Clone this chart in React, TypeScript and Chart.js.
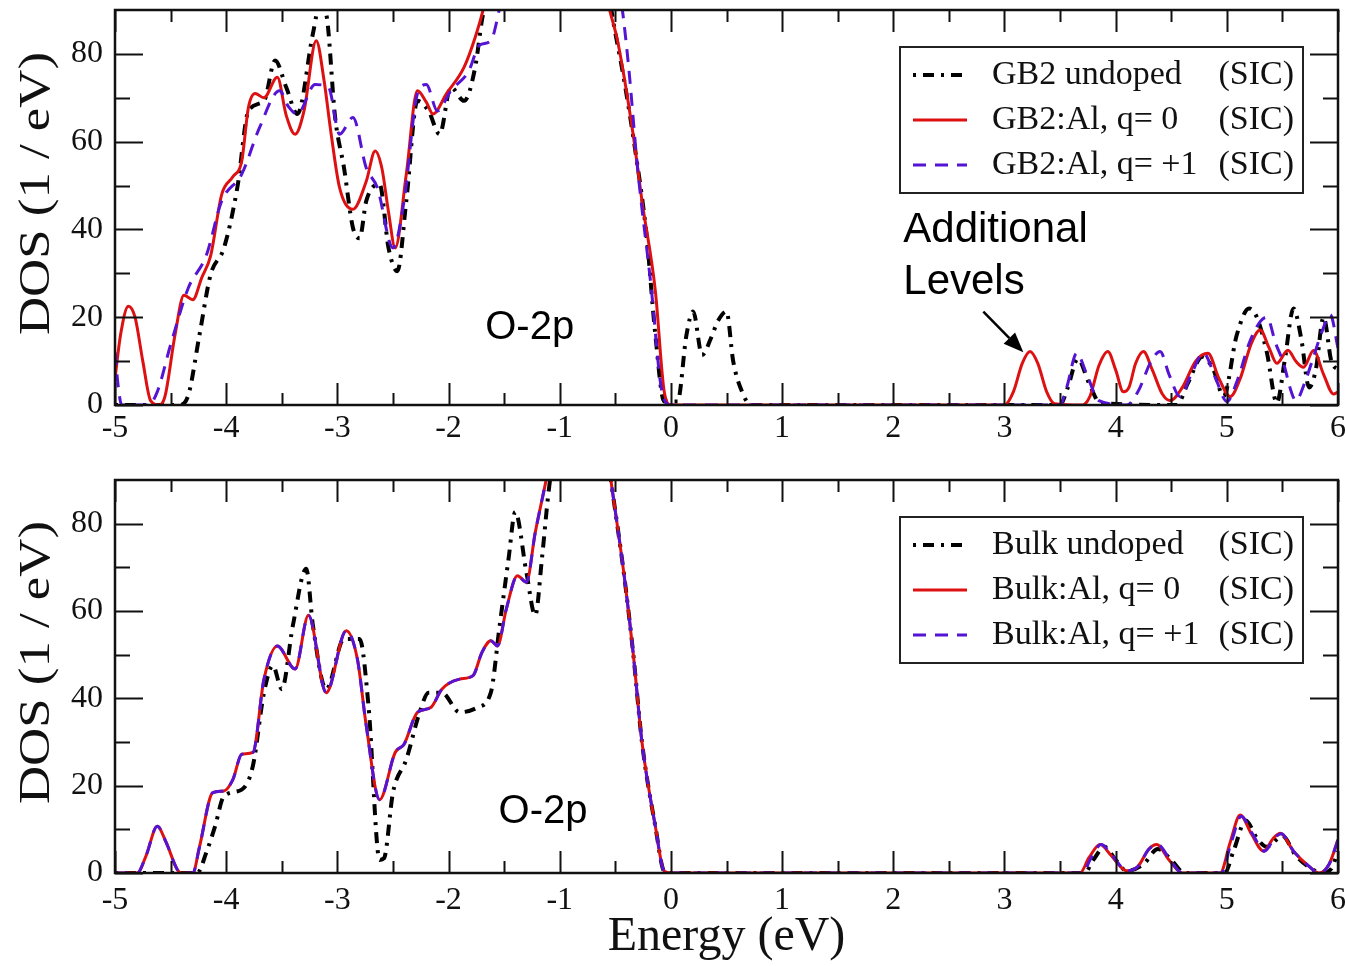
import React, { useEffect, useRef } from 'react';
import { Chart, registerables } from 'chart.js';

Chart.register(...registerables);

// ---------- axes ----------
const X_TICKS = [-5, -4, -3, -2, -1, 0, 1, 2, 3, 4, 5, 6];
const X_MINOR = [-4.5, -3.5, -2.5, -1.5, -0.5, 0.5, 1.5, 2.5, 3.5, 4.5, 5.5];
const Y_TICKS = [0, 20, 40, 60, 80];
const Y_MINOR = [10, 30, 50, 70];
const X_MIN = -5;
const X_MAX = 6;
const Y_MIN = 0;
const Y_MAX = 90;

// ---------- labels ----------
const TOP_LABELS = ['GB2 undoped', 'GB2:Al, q= 0', 'GB2:Al, q= +1'];
const BOTTOM_LABELS = ['Bulk undoped', 'Bulk:Al, q= 0', 'Bulk:Al, q= +1'];
const LABEL_SUFFIX = '(SIC)';
const X_TITLE = 'Energy (eV)';
const Y_TITLE = 'DOS (1 / eV)';

// ---------- data: [energy (eV), DOS (1/eV)] ----------
const GB2_UNDOPED: [number, number][] = [
  [-5, 0], [-4.42, 0], [-4.34, 2.3], [-4.24, 16], [-4.14, 29.7], [-4.02, 35.8], [-3.9, 49.5],
  [-3.8, 67], [-3.66, 69.3], [-3.56, 78.5], [-3.46, 72.4], [-3.36, 66.3], [-3.22, 84.6],
  [-3.16, 91], [-3.1, 89], [-3.02, 65.5], [-2.94, 54], [-2.86, 40.4], [-2.8, 38], [-2.74, 46.5],
  [-2.62, 50.3], [-2.54, 35.8], [-2.46, 30.5], [-2.38, 46.5], [-2.28, 69.3], [-2.18, 67],
  [-2.08, 61.7], [-1.98, 72.4], [-1.86, 69.3], [-1.76, 77], [-1.7, 87.6], [-1.6, 100],
  [-1.0, 140], [-0.6, 100], [-0.52, 87.6], [-0.42, 73.9], [-0.32, 57.9], [-0.22, 38.9],
  [-0.14, 16], [-0.06, 0.8], [0.06, 0.8], [0.14, 16], [0.2, 21.3], [0.28, 11.4], [0.36, 15.2],
  [0.42, 19], [0.5, 21.3], [0.56, 10], [0.64, 3], [0.72, 0], [3.5, 0], [3.57, 4], [3.66, 10.5],
  [3.76, 5], [3.86, 0.5], [4.55, 0], [4.65, 5], [4.78, 11], [4.88, 8], [4.97, 2], [5.09, 16],
  [5.2, 22], [5.27, 20], [5.36, 12], [5.45, 0.5], [5.52, 10], [5.6, 22], [5.67, 15], [5.74, 4],
  [5.8, 8], [5.87, 20], [5.94, 10], [6, 8],
];

const GB2_AL_Q0: [number, number][] = [
  [-5, 6], [-4.95, 16], [-4.88, 22.5], [-4.82, 20], [-4.75, 10], [-4.68, 1], [-4.6, 0],
  [-4.55, 2], [-4.46, 16], [-4.38, 25], [-4.3, 24], [-4.22, 29], [-4.14, 34], [-4.04, 48],
  [-3.94, 52], [-3.86, 55.6], [-3.8, 67.8], [-3.74, 71], [-3.66, 70], [-3.54, 74.7],
  [-3.46, 66], [-3.38, 61.7], [-3.3, 67], [-3.19, 83], [-3.12, 74], [-3.06, 62.5],
  [-2.98, 49.5], [-2.86, 44.6], [-2.74, 51], [-2.66, 57.9], [-2.6, 54], [-2.54, 44],
  [-2.48, 35.8], [-2.38, 52.6], [-2.28, 71.6], [-2.2, 69], [-2.14, 66.3], [-2.02, 70.9],
  [-1.86, 77], [-1.76, 83.8], [-1.68, 91], [-1.5, 115], [-1.1, 140], [-0.7, 110], [-0.56, 91],
  [-0.48, 83], [-0.34, 61.7], [-0.26, 46.5], [-0.14, 26], [-0.06, 3], [0, 0], [3.0, 0],
  [3.08, 3], [3.16, 9.5], [3.23, 12.2], [3.3, 9.5], [3.38, 3], [3.45, 0.3], [3.7, 0],
  [3.77, 2], [3.85, 9], [3.93, 12.2], [4.0, 8], [4.07, 3], [4.12, 4], [4.18, 9.5],
  [4.25, 12.2], [4.33, 8], [4.42, 2.5], [4.49, 1], [4.6, 4], [4.72, 10], [4.83, 11.8],
  [4.93, 6], [5.03, 1.9], [5.12, 6], [5.22, 14], [5.3, 17.1], [5.38, 13], [5.45, 9.5],
  [5.55, 12.5], [5.62, 10], [5.69, 8.6], [5.78, 12.4], [5.87, 7], [5.96, 2.5], [6, 3],
];

const GB2_AL_Q1: [number, number][] = [
  [-5, 12], [-4.97, 4], [-4.94, 0], [-4.7, 0], [-4.62, 3], [-4.5, 13.7], [-4.34, 26.7],
  [-4.18, 34], [-4.04, 46.5], [-3.86, 52.6], [-3.7, 63.2], [-3.52, 71.6], [-3.44, 68],
  [-3.36, 66.3], [-3.2, 73], [-3.08, 72.4], [-2.98, 61.7], [-2.86, 65.5], [-2.74, 54],
  [-2.64, 49.5], [-2.5, 35.8], [-2.4, 46.5], [-2.28, 70.9], [-2.2, 73], [-2.1, 67],
  [-1.98, 71.6], [-1.82, 76], [-1.72, 82], [-1.62, 83], [-1.54, 90.5], [-1.3, 120],
  [-0.9, 140], [-0.6, 115], [-0.44, 90.7], [-0.38, 77], [-0.3, 54], [-0.18, 27.4],
  [-0.08, 3], [0, 0], [3.5, 0], [3.56, 4], [3.65, 11.8], [3.74, 7], [3.85, 1], [4.1, 0],
  [4.2, 3], [4.32, 10], [4.4, 12.2], [4.48, 7], [4.58, 1.9], [4.68, 7], [4.79, 11.8],
  [4.9, 6], [5.0, 0.8], [5.1, 6], [5.2, 14], [5.3, 19], [5.36, 20], [5.44, 14], [5.51, 9.5],
  [5.58, 3], [5.62, 1], [5.7, 5], [5.78, 11], [5.86, 17], [5.93, 20.6], [6, 13],
];

const BULK_UNDOPED: [number, number][] = [
  [-5, 0], [-4.26, 0], [-4.18, 4.6], [-4.1, 10.7], [-4.02, 17.6], [-3.86, 19.1], [-3.76, 24.5],
  [-3.66, 41.3], [-3.58, 47.5], [-3.5, 42.1], [-3.4, 56.7], [-3.28, 69.7], [-3.22, 56.7],
  [-3.1, 42.1], [-2.94, 53.6], [-2.8, 53.6], [-2.72, 38.3], [-2.62, 3], [-2.58, 3.4],
  [-2.5, 18.4], [-2.38, 26], [-2.26, 36.8], [-2.18, 41.3], [-2.06, 41.3], [-1.9, 36.8],
  [-1.74, 37.9], [-1.62, 41.3], [-1.54, 56.7], [-1.46, 72], [-1.4, 82.7], [-1.3, 68.9],
  [-1.22, 59], [-1.16, 72], [-1.1, 87.3], [-0.9, 120], [-0.65, 110], [-0.54, 90],
  [-0.42, 68], [-0.34, 50.5], [-0.26, 29.9], [-0.14, 10.7], [-0.06, 0.4], [0, 0], [3.72, 0],
  [3.8, 3], [3.9, 6], [4.0, 3], [4.1, 0.5], [4.25, 2], [4.38, 5.5], [4.5, 3], [4.62, 0],
  [4.98, 0], [5.06, 5], [5.17, 12], [5.27, 8], [5.36, 6], [5.5, 8.5], [5.62, 4], [5.76, 1],
  [5.85, 0], [5.94, 1], [6, 5],
];

const BULK_AL_Q0: [number, number][] = [
  [-5, 0], [-4.8, 0], [-4.72, 4], [-4.62, 10.7], [-4.54, 7], [-4.44, 0.8], [-4.4, 0], [-4.3, 0],
  [-4.24, 6], [-4.12, 18.4], [-4.02, 18.8], [-3.94, 21.4], [-3.86, 27.2], [-3.76, 27.6],
  [-3.66, 44.4], [-3.54, 52], [-3.38, 46.7], [-3.26, 59], [-3.1, 41.3], [-2.92, 55.5],
  [-2.82, 49], [-2.74, 33.7], [-2.62, 16.8], [-2.48, 27.6], [-2.4, 29.5], [-2.28, 36.8],
  [-2.16, 37.9], [-2.06, 42.1], [-1.9, 44.4], [-1.78, 45.2], [-1.7, 50.5], [-1.62, 53.2],
  [-1.56, 52], [-1.48, 60.5], [-1.38, 68.1], [-1.3, 66.6], [-1.22, 78], [-1.12, 90.3],
  [-0.9, 120], [-0.65, 110], [-0.54, 90], [-0.42, 68], [-0.34, 50.5], [-0.26, 29.9],
  [-0.14, 10.7], [-0.06, 0.4], [0, 0], [3.68, 0], [3.76, 3.5], [3.86, 6.5], [3.96, 4],
  [4.1, 0.5], [4.2, 1.5], [4.3, 5.5], [4.37, 6.5], [4.48, 3], [4.6, 0], [4.94, 0], [5.03, 7],
  [5.12, 13.3], [5.22, 9], [5.33, 5], [5.42, 8], [5.48, 9.1], [5.6, 5], [5.74, 1.5], [5.83, 0],
  [5.92, 2], [6, 7.6],
];

const BULK_AL_Q1: [number, number][] = [
  [-5, 0], [-4.8, 0], [-4.72, 4], [-4.62, 10.7], [-4.54, 7], [-4.44, 0.8], [-4.4, 0], [-4.3, 0],
  [-4.24, 6], [-4.12, 18.4], [-4.02, 18.8], [-3.94, 21.4], [-3.86, 27.2], [-3.76, 27.6],
  [-3.66, 44.4], [-3.54, 52], [-3.38, 46.7], [-3.26, 59], [-3.1, 41.3], [-2.92, 55.5],
  [-2.82, 49], [-2.74, 33.7], [-2.62, 16.8], [-2.48, 27.6], [-2.4, 29.5], [-2.28, 36.8],
  [-2.16, 37.9], [-2.06, 42.1], [-1.9, 44.4], [-1.78, 45.2], [-1.7, 50.5], [-1.62, 53.2],
  [-1.56, 52], [-1.48, 60.5], [-1.38, 68.1], [-1.3, 66.6], [-1.22, 78], [-1.12, 90.3],
  [-0.9, 120], [-0.65, 110], [-0.54, 90], [-0.42, 68], [-0.34, 50.5], [-0.26, 29.9],
  [-0.14, 10.7], [-0.06, 0.4], [0, 0], [3.7, 0], [3.78, 3.5], [3.87, 6.5], [3.97, 4],
  [4.1, 0.5], [4.2, 1.5], [4.3, 5.5], [4.38, 6.5], [4.49, 3], [4.6, 0], [4.95, 0], [5.04, 7],
  [5.13, 13], [5.23, 9], [5.34, 5], [5.43, 8], [5.49, 9], [5.6, 5], [5.74, 1.5], [5.83, 0],
  [5.92, 2], [6, 7.6],
];

// ---------- styles ----------
const SERIF = "'Liberation Serif', 'Times New Roman', serif";
const SANS = "'Liberation Sans', Arial, sans-serif";
const INK = '#111111';
const BLACK_STYLE = { borderColor: '#000000', borderWidth: 4, borderDash: [3, 7, 11, 7] };
const RED_STYLE = { borderColor: '#dd1111', borderWidth: 3, borderDash: [] as number[] };
const BLUE_STYLE = { borderColor: '#5514d4', borderWidth: 3, borderDash: [13, 9] };

const toXY = (pts: [number, number][]) => pts.map(([x, y]) => ({ x, y }));

function makeDatasets(labels: string[], series: [number, number][][]) {
  const styles = [BLACK_STYLE, RED_STYLE, BLUE_STYLE];
  return series.map((s, i) => ({
    label: labels[i],
    data: toXY(s),
    ...styles[i],
    pointRadius: 0,
    fill: false,
    cubicInterpolationMode: 'monotone' as const,
    clip: 0,
    order: 3 - i,
  }));
}

// frame + inward ticks on all four sides, and the rotated y title
const frameTicksPlugin = {
  id: 'frameTicks',
  afterDraw(chart: any) {
    const { ctx, chartArea, scales } = chart;
    const { left, right, top, bottom } = chartArea;
    const x = scales.x;
    const y = scales.y;
    ctx.save();
    ctx.strokeStyle = INK;
    ctx.lineWidth = 2;
    ctx.setLineDash([]);
    ctx.beginPath();
    const xt = (vals: number[], len: number) => {
      vals.forEach((v) => {
        const px = Math.round(x.getPixelForValue(v)) + 0.5;
        ctx.moveTo(px, bottom);
        ctx.lineTo(px, bottom - len);
        ctx.moveTo(px, top);
        ctx.lineTo(px, top + len);
      });
    };
    const yt = (vals: number[], len: number) => {
      vals.forEach((v) => {
        const py = Math.round(y.getPixelForValue(v)) + 0.5;
        ctx.moveTo(left, py);
        ctx.lineTo(left + len, py);
        ctx.moveTo(right, py);
        ctx.lineTo(right - len, py);
      });
    };
    xt(X_TICKS, 22);
    xt(X_MINOR, 12);
    yt(Y_TICKS, 28);
    yt(Y_MINOR, 15);
    ctx.stroke();
    ctx.lineWidth = 2.5;
    ctx.strokeRect(left, top, right - left, bottom - top);

    // y axis title
    ctx.fillStyle = INK;
    ctx.font = `44px ${SERIF}`;
    ctx.textAlign = 'center';
    ctx.textBaseline = 'middle';
    ctx.translate(37, (top + bottom) / 2 - 14);
    ctx.rotate(-Math.PI / 2);
    ctx.scale(1.2, 1);
    ctx.fillText(Y_TITLE, 0, 0);
    ctx.restore();
  },
};

// boxed legend inside plot area
const boxLegendPlugin = {
  id: 'boxLegend',
  afterDraw(chart: any) {
    const { ctx, chartArea } = chart;
    const bw = 403;
    const bh = 146;
    const bx = chartArea.right - 35 - bw;
    const by = chartArea.top + 37;
    ctx.save();
    ctx.fillStyle = '#ffffff';
    ctx.fillRect(bx, by, bw, bh);
    ctx.strokeStyle = '#222222';
    ctx.lineWidth = 2;
    ctx.setLineDash([]);
    ctx.strokeRect(bx, by, bw, bh);
    chart.data.datasets.forEach((ds: any, i: number) => {
      const ry = by + 28 + i * 45;
      ctx.beginPath();
      ctx.strokeStyle = ds.borderColor;
      ctx.lineWidth = ds.borderWidth;
      ctx.setLineDash(ds.borderDash || []);
      ctx.moveTo(bx + 13, ry);
      ctx.lineTo(bx + 67, ry);
      ctx.stroke();
      ctx.setLineDash([]);
      ctx.fillStyle = INK;
      ctx.font = `34px ${SERIF}`;
      ctx.textBaseline = 'middle';
      ctx.textAlign = 'left';
      ctx.fillText(ds.label, bx + 92, ry);
      ctx.textAlign = 'right';
      ctx.fillText(LABEL_SUFFIX, bx + bw - 9, ry);
    });
    ctx.restore();
  },
};

// text notes and arrow, placed in data coordinates
const notesPlugin = {
  id: 'notes',
  afterDatasetsDraw(chart: any, _args: any, opts: any) {
    const { ctx, scales } = chart;
    const x = scales.x;
    const y = scales.y;
    ctx.save();
    ctx.fillStyle = '#000000';
    (opts.texts || []).forEach((t: any) => {
      ctx.font = `${t.size}px ${SANS}`;
      ctx.textAlign = t.align;
      ctx.textBaseline = 'middle';
      ctx.fillText(t.text, x.getPixelForValue(t.x), y.getPixelForValue(t.y));
    });
    (opts.arrows || []).forEach((a: any) => {
      const x0 = x.getPixelForValue(a.from[0]);
      const y0 = y.getPixelForValue(a.from[1]);
      const x1 = x.getPixelForValue(a.to[0]);
      const y1 = y.getPixelForValue(a.to[1]);
      const ang = Math.atan2(y1 - y0, x1 - x0);
      const hl = 20;
      const hw = 8;
      const bxp = x1 - hl * Math.cos(ang);
      const byp = y1 - hl * Math.sin(ang);
      ctx.strokeStyle = '#000000';
      ctx.lineWidth = 2.5;
      ctx.setLineDash([]);
      ctx.beginPath();
      ctx.moveTo(x0, y0);
      ctx.lineTo(bxp, byp);
      ctx.stroke();
      ctx.beginPath();
      ctx.moveTo(x1, y1);
      ctx.lineTo(bxp + hw * Math.sin(ang), byp - hw * Math.cos(ang));
      ctx.lineTo(bxp - hw * Math.sin(ang), byp + hw * Math.cos(ang));
      ctx.closePath();
      ctx.fill();
    });
    ctx.restore();
  },
};

function makeOptions(isBottom: boolean, notes: any) {
  return {
    responsive: false,
    animation: false as const,
    layout: { padding: { top: isBottom ? 20 : 10, right: 7, left: 0, bottom: 0 } },
    plugins: {
      legend: { display: false },
      tooltip: { enabled: false },
      notes,
    },
    scales: {
      x: {
        type: 'linear' as const,
        min: X_MIN,
        max: X_MAX,
        afterBuildTicks: (s: any) => {
          s.ticks = X_TICKS.map((v) => ({ value: v }));
        },
        afterFit: (s: any) => {
          s.height = isBottom ? 93 : 55;
          s.paddingLeft = 0;
          s.paddingRight = 0;
        },
        grid: { display: false, drawTicks: false },
        border: { display: false },
        ticks: {
          color: INK,
          font: { family: SERIF, size: 32 },
          padding: isBottom ? 8 : 4,
          maxRotation: 0,
          autoSkip: false,
        },
        title: {
          display: isBottom,
          text: X_TITLE,
          color: INK,
          font: { family: SERIF, size: 48 },
          padding: 0,
        },
      },
      y: {
        type: 'linear' as const,
        min: Y_MIN,
        max: Y_MAX,
        afterBuildTicks: (s: any) => {
          s.ticks = Y_TICKS.map((v) => ({ value: v }));
        },
        afterFit: (s: any) => {
          s.width = 115;
          s.paddingTop = 0;
          s.paddingBottom = 0;
        },
        grid: { display: false, drawTicks: false },
        border: { display: false },
        ticks: {
          color: INK,
          font: { family: SERIF, size: 32 },
          padding: 12,
        },
        title: { display: false, text: Y_TITLE },
      },
    },
  };
}

export default function App() {
  const topRef = useRef<HTMLCanvasElement>(null);
  const botRef = useRef<HTMLCanvasElement>(null);

  useEffect(() => {
    if (!topRef.current || !botRef.current) return;
    const plugins = [frameTicksPlugin, boxLegendPlugin, notesPlugin];
    const topChart = new Chart(topRef.current, {
      type: 'line',
      data: { datasets: makeDatasets(TOP_LABELS, [GB2_UNDOPED, GB2_AL_Q0, GB2_AL_Q1]) as any },
      options: makeOptions(false, {
        texts: [
          { text: 'O-2p', x: -1.27, y: 17.6, size: 40, align: 'center' },
          { text: 'Additional', x: 2.09, y: 39.8, size: 42, align: 'left' },
          { text: 'Levels', x: 2.09, y: 27.9, size: 42, align: 'left' },
        ],
        arrows: [{ from: [2.81, 21.3], to: [3.17, 12.0] }],
      }) as any,
      plugins,
    });
    const botChart = new Chart(botRef.current, {
      type: 'line',
      data: { datasets: makeDatasets(BOTTOM_LABELS, [BULK_UNDOPED, BULK_AL_Q0, BULK_AL_Q1]) as any },
      options: makeOptions(true, {
        texts: [{ text: 'O-2p', x: -1.15, y: 13.9, size: 40, align: 'center' }],
        arrows: [],
      }) as any,
      plugins,
    });
    return () => {
      topChart.destroy();
      botChart.destroy();
    };
  }, []);

  return (
    <div style={{ position: 'absolute', left: 0, top: 0, width: 1345, height: 966, background: '#ffffff' }}>
      <canvas ref={topRef} width={1345} height={460} style={{ position: 'absolute', left: 0, top: 0 }} />
      <canvas ref={botRef} width={1345} height={506} style={{ position: 'absolute', left: 0, top: 460 }} />
    </div>
  );
}
